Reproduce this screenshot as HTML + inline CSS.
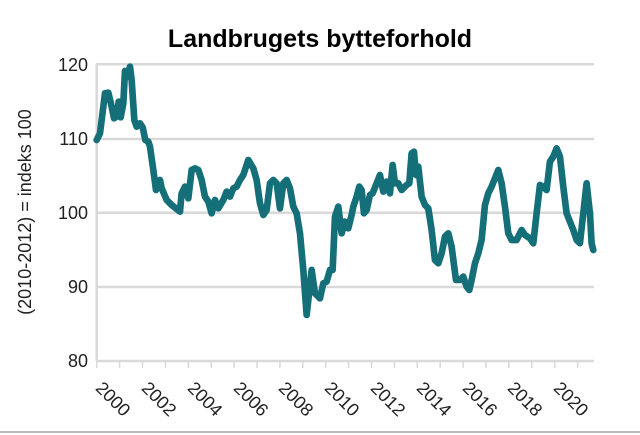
<!DOCTYPE html>
<html><head><meta charset="utf-8"><style>
html,body{margin:0;padding:0;background:#fff;}
svg{display:block;font-family:"Liberation Sans",sans-serif;}
</style></head><body>
<svg width="640" height="435" viewBox="0 0 640 435" xmlns="http://www.w3.org/2000/svg">
<rect width="640" height="435" fill="#fff"/>
<text x="320" y="47" text-anchor="middle" font-size="25" font-weight="bold" fill="#000">Landbrugets bytteforhold</text>
<g stroke="#d9d9d9" stroke-width="2.5">
<line x1="96" y1="64.3" x2="594" y2="64.3"/>
<line x1="96" y1="139" x2="594" y2="139"/>
<line x1="96" y1="212.7" x2="594" y2="212.7"/>
<line x1="96" y1="287" x2="594" y2="287"/>
<line x1="96" y1="361" x2="594" y2="361"/>
<line x1="96.7" y1="64" x2="96.7" y2="361"/>
</g>
<g font-size="18" fill="#222" text-anchor="end">
<text x="88" y="71">120</text>
<text x="88" y="145">110</text>
<text x="88" y="219">100</text>
<text x="88" y="293">90</text>
<text x="88" y="367">80</text>
</g>
<text transform="translate(31,212) rotate(-90)" text-anchor="middle" font-size="18" fill="#222">(2010-2012) = indeks 100</text>
<g font-size="18" fill="#222" text-anchor="middle">
<text transform="translate(113,399) rotate(45)" dy="6">2000</text>
<text transform="translate(159,399) rotate(45)" dy="6">2002</text>
<text transform="translate(205,399) rotate(45)" dy="6">2004</text>
<text transform="translate(251,399) rotate(45)" dy="6">2006</text>
<text transform="translate(296,399) rotate(45)" dy="6">2008</text>
<text transform="translate(342,399) rotate(45)" dy="6">2010</text>
<text transform="translate(388,399) rotate(45)" dy="6">2012</text>
<text transform="translate(434,399) rotate(45)" dy="6">2014</text>
<text transform="translate(480,399) rotate(45)" dy="6">2016</text>
<text transform="translate(525,399) rotate(45)" dy="6">2018</text>
<text transform="translate(571,399) rotate(45)" dy="6">2020</text>
</g>
<g stroke="#d9d9d9" stroke-width="1.5">
<line x1="96.7" y1="361" x2="96.7" y2="368"/><line x1="119.6" y1="361" x2="119.6" y2="368"/><line x1="142.5" y1="361" x2="142.5" y2="368"/><line x1="165.4" y1="361" x2="165.4" y2="368"/><line x1="188.3" y1="361" x2="188.3" y2="368"/><line x1="211.2" y1="361" x2="211.2" y2="368"/><line x1="234.1" y1="361" x2="234.1" y2="368"/><line x1="257" y1="361" x2="257" y2="368"/><line x1="279.9" y1="361" x2="279.9" y2="368"/><line x1="302.8" y1="361" x2="302.8" y2="368"/><line x1="325.7" y1="361" x2="325.7" y2="368"/><line x1="348.6" y1="361" x2="348.6" y2="368"/><line x1="371.5" y1="361" x2="371.5" y2="368"/><line x1="394.4" y1="361" x2="394.4" y2="368"/><line x1="417.3" y1="361" x2="417.3" y2="368"/><line x1="440.2" y1="361" x2="440.2" y2="368"/><line x1="463.1" y1="361" x2="463.1" y2="368"/><line x1="486" y1="361" x2="486" y2="368"/><line x1="508.9" y1="361" x2="508.9" y2="368"/><line x1="531.8" y1="361" x2="531.8" y2="368"/><line x1="554.7" y1="361" x2="554.7" y2="368"/><line x1="577.6" y1="361" x2="577.6" y2="368"/>
</g>
<g transform="translate(0,40) scale(0.3333)" fill="none" stroke="#156f78" stroke-width="20" stroke-linejoin="round" stroke-linecap="round">
<polyline points="290,300 300,280 315,160 325,158 335,200 342,235 350,230 356,185 362,232 370,190 375,93 383,110 390,80 395,120 403,240 410,260 420,250 428,262 436,300 445,305 450,320 460,390 468,450 480,420 485,445 500,480 515,495 540,515 545,460 555,440 565,475 575,390 585,385 595,390 605,420 615,470 625,485 635,520 645,480 655,505 670,480 680,455 690,470 700,445 710,440 720,420 730,405 745,360 760,385 770,420 780,490 790,525 800,510 810,430 820,420 830,430 840,505 850,430 860,420 870,445 880,500 890,520 900,580 910,690 920,825 935,690 945,760 960,775"/>
<g transform="translate(960,0)">
<polyline points="0,775 10,730 20,725 30,690 38,690 45,530 55,500 65,580 75,545 85,565 95,525 100,500 110,470 118,440 125,450 132,520 140,510 150,465 158,460 170,430 180,405 190,455 200,425 210,460 218,375 225,430 235,430 245,450 260,435 268,430 275,340 282,335 288,405 295,380 305,470 315,495 325,505 335,570 345,660 355,670 365,640 375,590 385,580 395,620 408,720 420,720 430,710 440,740 448,750 455,720 465,670 475,640 485,600 495,495 505,460 515,440 525,415 535,390 545,430 555,500 565,580 575,600 590,600 605,570 615,585 630,595 640,610 650,520 660,435 670,440 680,450 690,365 700,350 710,325 720,350 730,440 740,520 750,545 760,570 770,600 780,610 790,520 800,430 810,520 815,610 820,630"/>
</g>
</g>
<line x1="0" y1="432" x2="640" y2="432" stroke="#bbb" stroke-width="2"/>
</svg>
</body></html>
